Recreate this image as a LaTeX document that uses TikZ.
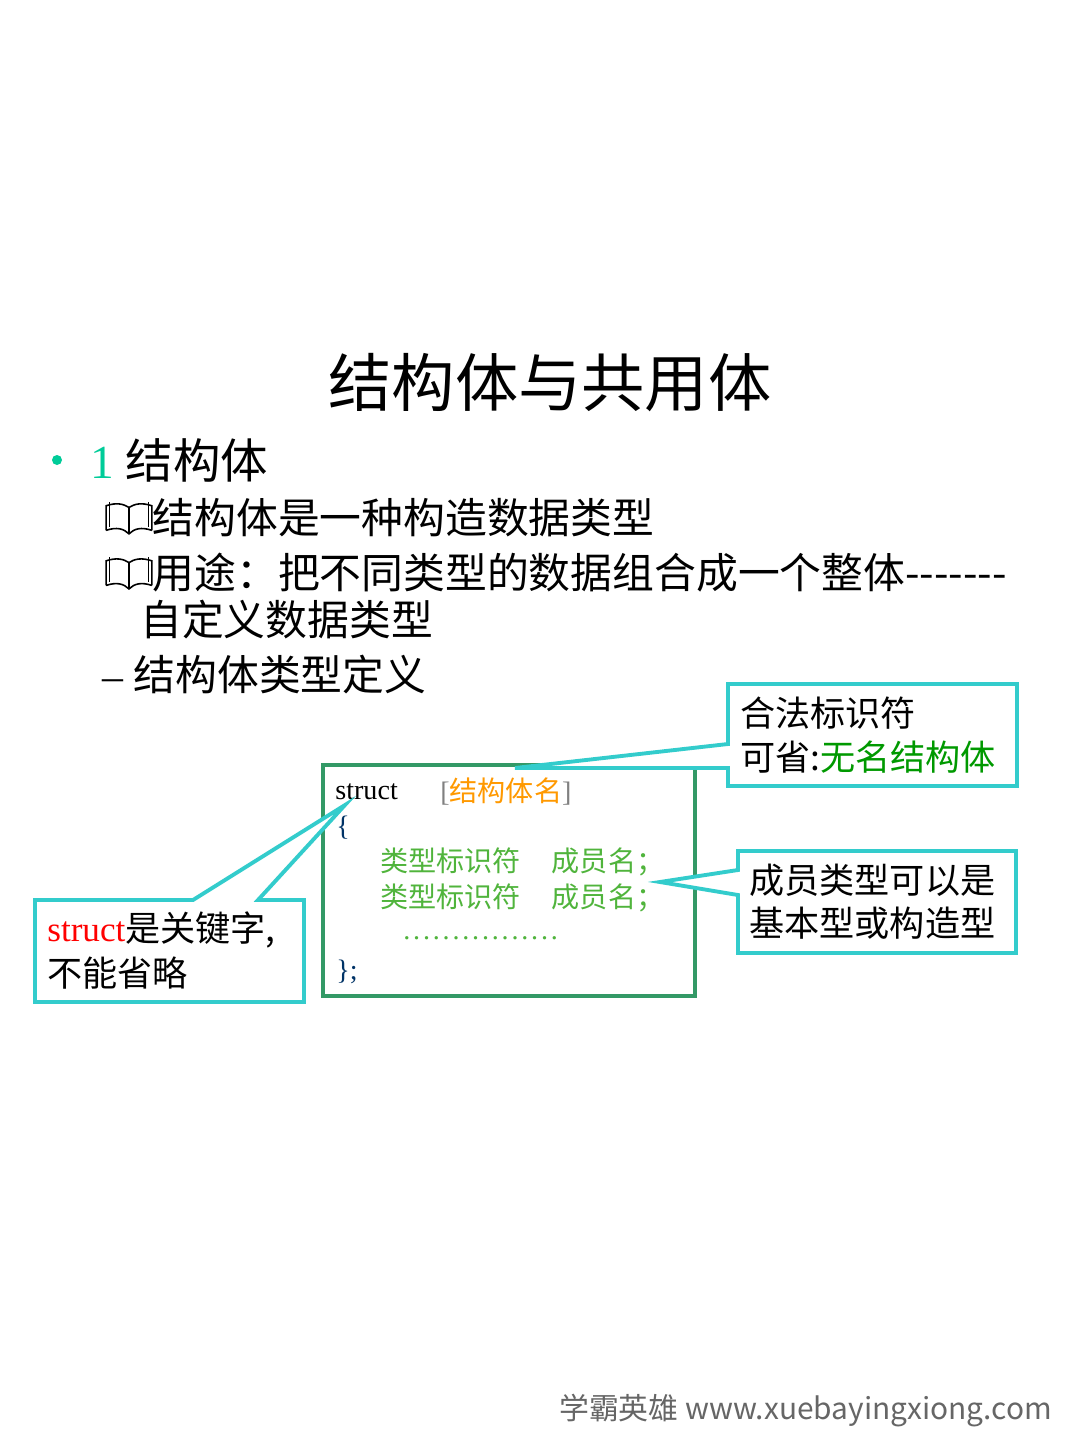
\documentclass[tikz,border=0pt]{standalone}
\usepackage{fontspec}
\setmainfont{Liberation Serif}
\newfontfamily\cjk{Noto Sans CJK SC}
\usetikzlibrary{positioning}
\definecolor{tealc}{RGB}{51,204,204}
\definecolor{bulletc}{RGB}{0,204,153}
\definecolor{codegreen}{RGB}{51,153,102}
\definecolor{typegreen}{RGB}{80,180,60}
\definecolor{namegold}{RGB}{255,153,0}
\definecolor{navy}{RGB}{0,51,102}
\newcommand\bookicon{\tikz[baseline=0pt, x=1pt, y=1pt, line width=0.9pt]{
  \draw (0,2) -- (0,16) .. controls (6,18) and (10,17) .. (13,15) .. controls (16,17) and (20,18) .. (26,16) -- (26,2);
  \draw (0,2) .. controls (6,4) and (10,3) .. (13,0) .. controls (16,3) and (20,4) .. (26,2);
  \draw (13,0) -- (13,15);
  \draw (2,4) -- (2,18) (24,4) -- (24,18);}}
\begin{document}
\begin{tikzpicture}[x=0.02cm, y=-0.02cm,
  txt/.style={anchor=west, inner sep=0pt},
  callout/.style={draw=tealc, line width=2.2pt, fill=white},
  codebox/.style={draw=codegreen, line width=2.2pt}]
\useasboundingbox (0,0) rectangle (1080,1440);
\fill[white] (0,0) rectangle (1080,1440);

\node (title) at (550,383) {\cjk\fontsize{36}{40}\selectfont 结构体与共用体};
\fill[bulletc] (57,460) circle (5) coordinate (bullet);
\node[txt] (sec) at (90,460) {\fontsize{27}{30}\selectfont\textcolor{bulletc}{1} \cjk 结构体};
\node[txt] (l1) at (105,518) {\fontsize{23.8}{27}\selectfont\bookicon\cjk 结构体是一种构造数据类型};
\node[txt] (l2) at (105,573) {\fontsize{23.8}{27}\selectfont\bookicon\cjk 用途：把不同类型的数据组合成一个整体-------};
\node[txt] (l3) at (140,620) {\cjk\fontsize{23.8}{27}\selectfont 自定义数据类型};
\node[txt] (l4) at (102,675) {\fontsize{23.8}{27}\selectfont – \cjk 结构体类型定义};

% code box
\draw[codebox] (323,765) rectangle (695,996);
\node[txt] (kw) at (335,792) {\fontsize{16}{18}\selectfont struct};
\node[txt, text=gray] (nm) at (440,792) {\fontsize{16}{18}\selectfont [\textcolor{namegold}{\cjk 结构体名}]};
\node[txt, text=navy] (ob) at (336,828) {\fontsize{16}{18}\selectfont \{};
\node[txt, text=typegreen] (m1) at (380,862) {\fontsize{16}{18}\selectfont\cjk 类型标识符\hspace{1.1em}成员名；};
\node[txt, text=typegreen] (m2) at (380,898) {\fontsize{16}{18}\selectfont\cjk 类型标识符\hspace{1.1em}成员名；};
\node[txt, text=typegreen] (dots) at (403,938) {\fontsize{16}{18}\selectfont\addfontfeature{LetterSpace=10} ................};
\node[txt, text=navy] (cb) at (336,972) {\fontsize{16}{18}\selectfont \};};

% callouts
\coordinate (p1) at (515,768);
\coordinate (p2) at (345,805);
\coordinate (p3) at (660,882);
\draw[callout] (728,684) -- (1017,684) -- (1017,786) -- (728,786) -- (728,768) -- (p1) -- (728,744) -- cycle;
\node[txt] (c1a) at (740,713) {\cjk\fontsize{20}{23}\selectfont 合法标识符};
\node[txt] (c1b) at (740,757) {\cjk\fontsize{20}{23}\selectfont 可省:\textcolor{green!60!black}{无名结构体}};

\draw[callout] (35,900) -- (193,900) -- (p2) -- (258,900) -- (304,900) -- (304,1002) -- (35,1002) -- cycle;
\node[txt] (c2a) at (47,930) {\fontsize{20}{23}\selectfont\textcolor{red}{struct}\cjk 是关键字,};
\node[txt] (c2b) at (47,973) {\cjk\fontsize{20}{23}\selectfont 不能省略};

\draw[callout] (738,851) -- (1016,851) -- (1016,953) -- (738,953) -- (738,895) -- (p3) -- (738,870) -- cycle;
\node[txt] (c3a) at (749,880) {\cjk\fontsize{20}{23}\selectfont 成员类型可以是};
\node[txt] (c3b) at (749,923) {\cjk\fontsize{20}{23}\selectfont 基本型或构造型};

\node[anchor=east, text=black!60] (foot) at (1058,1411) {\fontsize{17}{18}\selectfont\cjk 学霸英雄 www.xuebayingxiong.com};
\end{tikzpicture}
\end{document}
